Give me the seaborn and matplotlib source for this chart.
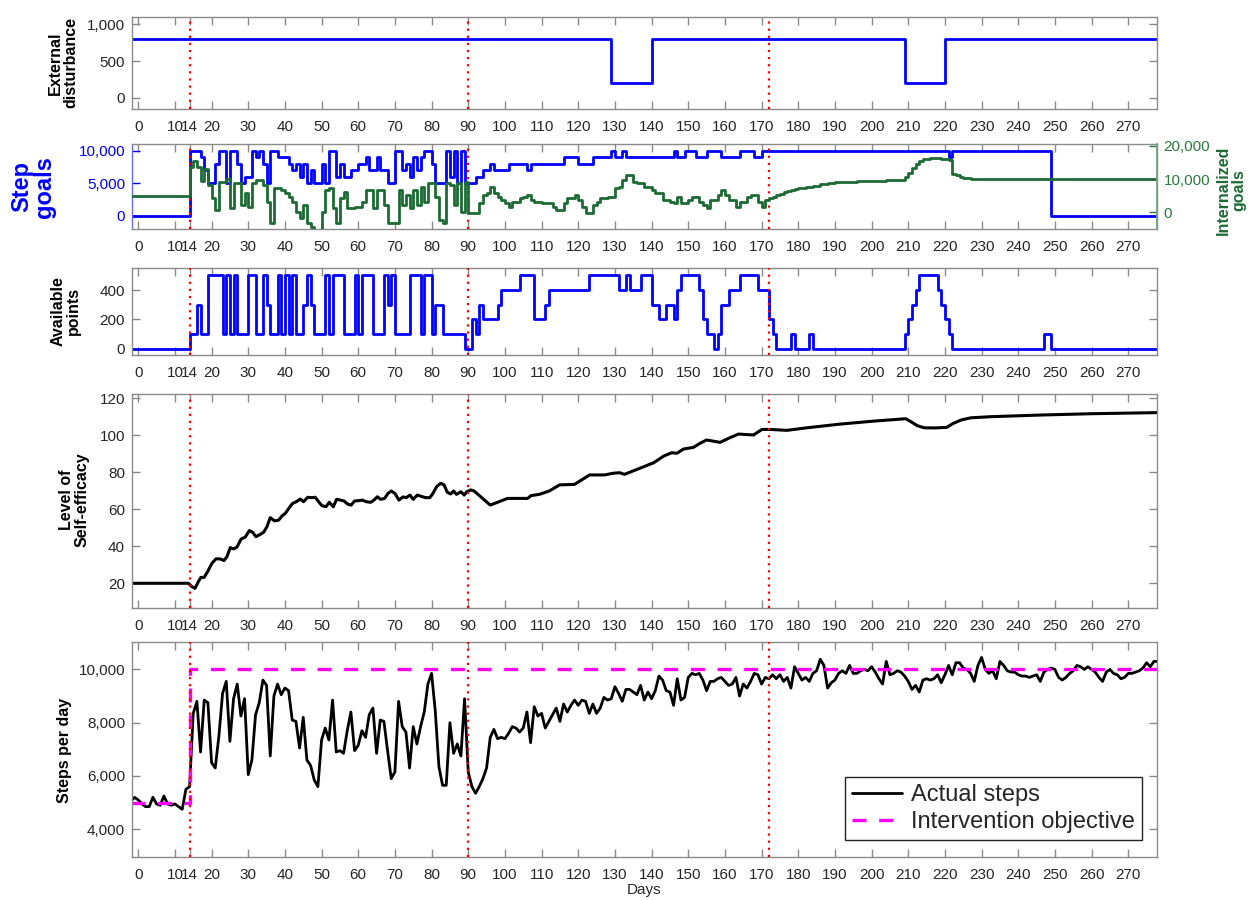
import numpy as np
import pandas as pd
import matplotlib
matplotlib.use("Agg")
import matplotlib.pyplot as plt
import seaborn as sns
from matplotlib.ticker import FuncFormatter
from matplotlib.lines import Line2D

# ---------------- data ----------------
END_DAY = 278
phase_days = [14, 90, 172]
tick_days = [0, 10, 14] + list(range(20, 271, 10))

# external disturbance (change points)
dist_days = [-2, 129, 140, 209, 220]
dist_vals = [800, 200, 800, 200, 800]

# step goals (change points)
goal_days = [-2, 14, 17, 18, 19, 21, 22, 24, 25, 27, 28, 29, 31, 32, 33, 34, 35, 36, 38,
             41, 42, 43, 44, 45, 46, 47, 48, 50, 51, 52, 54, 55, 56, 58, 60, 62, 63, 65,
             66, 68, 70, 72, 73, 74, 75, 76, 77, 78, 80, 81, 84, 85, 86, 87, 88, 89, 92,
             94, 96, 97, 101, 106, 107, 116, 120, 124, 129, 130, 132, 133, 146, 147, 149,
             152, 155, 159, 164, 168, 170, 221, 222, 249]
goal_vals = [0, 10000, 9000, 7000, 5000, 8000, 10000, 5000, 10000, 8000, 5000, 6000, 10000,
             9000, 10000, 8000, 5000, 10000, 9000, 8000, 7000, 8000, 6000, 8000, 5000, 7000,
             5000, 8000, 5000, 10000, 6000, 8000, 6000, 7000, 8000, 9000, 7000, 9000, 7000,
             5000, 10000, 7000, 8000, 6000, 9000, 7000, 9000, 10000, 8000, 5000, 10000, 6000,
             10000, 5000, 10000, 5000, 6000, 7000, 8000, 7000, 8000, 7000, 8000, 9000, 8000,
             9000, 10000, 9000, 10000, 9000, 10000, 9000, 10000, 9000, 10000, 9000, 10000,
             9000, 10000, 9000, 10000, 0]

# internalized goals (change points, right axis)
int_days = [-2, 14, 15, 16, 17, 18, 19, 20, 21, 22, 24, 25, 26, 28, 29, 30, 31, 32, 34, 35,
            36, 37, 39, 40, 41, 42, 43, 44, 45, 46, 47, 48, 50, 51, 52, 53, 54, 55, 56, 57,
            59, 61, 62, 63, 64, 65, 67, 68, 71, 72, 73, 74, 75, 76, 77, 78, 79, 81, 82, 83,
            84, 85, 86, 87, 88, 89, 90, 93, 94, 95, 96, 97, 98, 99, 100, 101, 102, 104, 105,
            106, 107, 108, 110, 113, 114, 116, 117, 119, 120, 121, 122, 124, 125, 126, 128,
            130, 131, 132, 133, 135, 136, 138, 140, 141, 143, 145, 146, 147, 148, 150, 151,
            153, 154, 155, 156, 158, 159, 160, 161, 163, 164, 166, 167, 169, 170, 171, 172,
            173, 174, 175, 176, 177, 178, 179, 180, 182, 184, 186, 188, 190, 193, 196, 200,
            204, 209, 210, 211, 212, 213, 214, 216, 219, 221, 222, 223, 224, 225, 227, 230]
int_vals = [5000, 13800, 15500, 13800, 9500, 13000, 8250, 4200, 700, 9250, 10200, 1200, 8750,
            2200, 5700, 1700, 8750, 9750, 8250, 3200, -3300, 7250, 6700, 5700, 4700, 3200, 200,
            -1800, 2200, -3300, -4300, -5200, 200, 6700, 7250, 1200, -3300, 4200, 6200, 1200,
            1700, 3200, 6700, 6700, 1200, 6700, 2200, -3300, 6700, 2200, 5200, 1200, 6700,
            2200, 7750, 3200, 8750, 4700, -2300, -3300, 8750, 8250, 2200, 8750, 200, 9250,
            -300, 2700, 5200, 5700, 7700, 5700, 4700, 3700, 2700, 1700, 3200, 4200, 4700, 5200,
            3700, 3200, 2700, 1700, 700, 2700, 4200, 5200, 3700, 1700, -300, 2200, 3200, 4200,
            4700, 7200, 7700, 9800, 11300, 9300, 8800, 7700, 6700, 5700, 3700, 3200, 2700,
            4700, 2700, 3700, 4700, 3200, 2200, 1200, 3700, 5200, 6700, 5200, 3700, 1700, 3200,
            4700, 5200, 3200, 1700, 3700, 4200, 4700, 5200, 5600, 6000, 6300, 6600, 6900, 7200,
            7600, 8000, 8400, 8700, 9000, 9200, 9400, 9600, 9800, 10800, 12000, 13300, 14600,
            15600, 16100, 16300, 16100, 15700, 11700, 11300, 10800, 10400, 10100, 10000]

# available points (change points)
pts_days = [-2, 14, 16, 17, 19, 23, 24, 25, 26, 27, 30, 32, 34, 35, 36, 38, 39, 40, 41, 42,
            43, 45, 46, 47, 48, 51, 52, 53, 56, 59, 60, 61, 64, 67, 68, 69, 70, 74, 77, 78,
            80, 81, 83, 89, 91, 92, 93, 94, 98, 99, 104, 108, 111, 112, 123, 131, 133, 134,
            137, 140, 142, 144, 146, 147, 148, 153, 154, 155, 157, 158, 159, 161, 164, 169,
            172, 173, 174, 178, 179, 183, 184, 209, 210, 211, 212, 213, 218, 219, 220, 221,
            222, 247, 249]
pts_vals = [0, 100, 300, 100, 500, 100, 500, 100, 500, 100, 500, 100, 500, 300, 100, 500,
            100, 500, 100, 500, 100, 300, 500, 300, 100, 500, 100, 500, 100, 500, 100, 500,
            100, 500, 300, 500, 100, 500, 100, 500, 100, 300, 100, 0, 200, 100, 300, 200, 300,
            400, 500, 200, 300, 400, 500, 400, 500, 400, 500, 300, 200, 300, 200, 400, 500,
            400, 200, 100, 0, 100, 300, 400, 500, 400, 200, 100, 0, 100, 0, 100, 0, 100, 200,
            300, 400, 500, 400, 300, 200, 100, 0, 100, 0]

# level of self-efficacy
se_days = [-2, 13.7, 14.6, 15.5, 16.4, 17.1, 18, 18.9, 20.1, 21.2, 22.3, 23.4, 24.2, 25.1, 26,
           26.9, 28.1, 29.2, 30.3, 31.2, 32.1, 33.3, 34.2, 35.1, 36, 37.2, 38.3, 39.2, 40.1,
           41.2, 42.1, 43.1, 44.2, 45.1, 46.2, 47.2, 48.3, 49.2, 50.1, 51.2, 52.1, 53.2, 54.1,
           55.2, 56.1, 57.2, 58.1, 59, 60.2, 61.1, 62.2, 63.4, 64.3, 65.2, 66.1, 67.2, 68.1,
           69, 70, 71.1, 72.2, 73.1, 74.1, 75, 76.1, 77.2, 78.4, 79.5, 80.2, 81.4, 82.5, 83.4,
           84.3, 85.2, 86, 86.8, 88, 88.9, 89.6, 90.7, 91.6, 93.4, 96, 98, 100.7, 106.2, 107.1,
           109.4, 112.1, 114.9, 119, 123.1, 127.2, 129.5, 131.3, 132.6, 134.5, 137.2, 140.6,
           143.3, 145.5, 146.9, 148.7, 151.4, 153.2, 155, 158.7, 161, 163.7, 167.8, 170.1,
           172.4, 176.9, 182.4, 191.5, 200.6, 209.3, 210.7, 212.5, 214.3, 217.1, 220.5, 222.1,
           224.4, 227.1, 232.6, 246.3, 260, 278.2]
se_vals = [20, 20, 18.2, 17.3, 20.9, 23.2, 23.2, 26.3, 30.8, 33.2, 33.2, 32.3, 34.4, 39.3,
           38.6, 39.5, 44, 45, 48.5, 47.6, 45.2, 46.5, 47.6, 50.6, 55.5, 53.7, 54.2, 56.4, 57.8,
           60.9, 63.2, 64.1, 65.6, 64.1, 66.5, 66.3, 66.5, 64.1, 62, 61.4, 63.8, 61.4, 65.4, 65,
           64.5, 62.7, 62.3, 64.5, 64.7, 65, 64.1, 63.8, 65, 66.8, 65.4, 65.9, 68.6, 69.9, 68.6,
           65, 66.7, 66.3, 67.7, 65.4, 67.7, 67, 66.3, 66.3, 68.1, 72.3, 74.1, 73.2, 69.2, 68.3,
           69.9, 68.1, 69.5, 67.7, 69.5, 70.5, 69.9, 66.8, 62.3, 63.8, 65.9, 65.9, 67.4, 68.1,
           69.9, 73.2, 73.5, 78.6, 78.6, 79.5, 79.8, 78.9, 80.4, 82.5, 85.2, 88.8, 90.6, 90.3,
           92.6, 93.5, 95.7, 97.5, 96.2, 98.4, 100.7, 100.2, 103.2, 103.2, 102.7, 104.1, 106.1,
           107.7, 109, 107.4, 105.2, 104.1, 104, 104.3, 106.3, 108.3, 109.5, 110.1, 111, 111.7,
           112.3]

# actual steps per day, days -2 .. 278
step_days = list(range(-2, END_DAY + 1))
steps = [5050, 5200, 5100, 4950, 4850, 4850, 5200, 4950, 4900, 5250, 4950, 4900, 4950, 4850,
         4750, 5500, 5600,
         8350, 8800, 6900, 8850, 8750, 6500, 6300, 7500, 9100, 9550,
         7300, 8900, 9450, 8250, 8900, 6050, 6600, 8300, 8750, 9600,
         9400, 6750, 9000, 9450, 9050, 9300, 9200, 8100, 8050, 7050,
         8200, 6600, 6400, 5850, 5600, 7350, 7800, 7350, 8850, 6900,
         6950, 6850, 7700, 8400, 6950, 7150, 7700, 7450, 8300, 8550,
         6850, 8100, 8050, 6950, 5900, 6150, 8800, 7850, 7650, 6300,
         7850, 7200, 7850, 8400, 9450, 9850, 8450, 6350, 5650, 5650,
         8000, 6850, 7200, 6750, 8900, 6150, 5600, 5350, 5600, 5900,
         6300, 7450, 7750, 7400, 7450, 7400, 7600, 7850, 7800, 7650,
         7800, 8400, 7250, 8600, 8250, 8350, 7800, 8050, 8300, 8550,
         8050, 8700, 8400, 8650, 8850, 8650, 8850, 8800, 8350, 8700,
         8350, 8550, 8950, 8850, 8900, 9350, 9100, 8800, 9250, 9250,
         9150, 9050, 9400, 8850, 9150, 8900, 9200, 9750, 9600, 9200,
         9150, 8650, 9650, 8850, 8950, 9700, 9850, 9800, 9850, 9600,
         9200, 9550, 9550, 9650, 9700, 9550, 9400, 9450, 9700, 9000,
         9450, 9300, 9550, 9850, 9800, 9450, 9700, 9650, 9800, 9650,
         9800, 9550, 9700, 9300, 10100, 9850, 9600, 9700, 9550, 9850,
         9950, 10380, 10150, 9300, 9500, 9600, 9850, 9950, 9850, 10150,
         9850, 9850, 9950, 10000, 9950, 10100, 9900, 9650, 9450, 10300,
         9800, 9850, 9950, 9900, 9750, 9550, 9250, 9400, 9150, 9600,
         9650, 9600, 9650, 9800, 9500, 9800, 10150, 9800, 10250, 10250,
         10050, 10000, 9850, 9550, 10150, 10450, 10000, 9850, 9950, 9650,
         10300, 10150, 9950, 9900, 9900, 9800, 9750, 9750, 9700, 9750,
         9800, 9550, 9900, 10000, 10050, 10000, 9700, 9600, 9700, 9850,
         9950, 10150, 10100, 10000, 10100, 10000, 9900, 9700, 9550, 9900,
         10000, 9850, 9800, 9650, 9700, 9850, 9850, 9900, 9950, 10050,
         10250, 10100, 10300, 10300]
assert len(steps) == len(step_days)

# intervention objective (change points)
obj_days = [-2, 14]
obj_vals = [5000, 10000]

# ---------------- styling ----------------
sns.set_theme(style="ticks")
plt.rcParams['font.family'] = ['Liberation Sans', 'DejaVu Sans']

W, H = 1255, 900
XMIN, XMAX = -1.7, 277.7
FRAME = '#8a8a8a'
TXT = '#262626'
BLUE = '#0000ff'
GREEN = '#1d6b34'
GREEN_T = '#2a7a3e'
MAG = '#ff00ff'

fig = plt.figure(figsize=(W / 100, H / 100), dpi=100)


def rect(top, bottom, left=132, right=1156.5):
    return [left / W, 1 - bottom / H, (right - left) / W, (bottom - top) / H]


def stairs(days, vals):
    return list(days) + [END_DAY + 2], list(vals) + [vals[-1]]


comma = FuncFormatter(lambda v, p: f"{v:,.0f}")


def style(ax, ylim, yticks, right=True):
    ax.set_xlim(XMIN, XMAX)
    ax.set_ylim(*ylim)
    ax.set_xticks(tick_days)
    ax.set_xticklabels([str(t) for t in tick_days])
    ax.set_yticks(yticks)
    ax.yaxis.set_major_formatter(comma)
    ax.tick_params(direction='in', length=6, width=1, color=FRAME, labelsize=11,
                   labelcolor=TXT, top=True, right=right, pad=5)
    ax.tick_params(axis='x', pad=8)
    for s in ax.spines.values():
        s.set_color(FRAME)
        s.set_linewidth(1)
    ax.set_xlabel('')
    ax.set_ylabel('')
    for d in phase_days:
        ax.axvline(d, color='red', ls=(0, (1, 2.2)), lw=1.6, zorder=5)


# Panel 1: external disturbance
ax1 = fig.add_axes(rect(17, 109))
x, y = stairs(dist_days, dist_vals)
sns.lineplot(x=x, y=y, ax=ax1, color=BLUE, lw=2.0, drawstyle='steps-post',
             estimator=None, sort=False, legend=False)
style(ax1, (-150, 1100), [0, 500, 1000])

# Panel 2: step goals + internalized goals
ax2 = fig.add_axes(rect(144.3, 229))
x, y = stairs(goal_days, goal_vals)
sns.lineplot(x=x, y=y, ax=ax2, color=BLUE, lw=2.0, drawstyle='steps-post',
             estimator=None, sort=False, legend=False)
style(ax2, (-2000, 11000), [0, 5000, 10000], right=False)
ax2.tick_params(axis='y', labelcolor=BLUE, color=BLUE)
ax2.spines['left'].set_color('#6b6bff')
ax2r = ax2.twinx()
x, y = stairs(int_days, int_vals)
sns.lineplot(x=x, y=y, ax=ax2r, color=GREEN, lw=2.0, drawstyle='steps-post',
             estimator=None, sort=False, legend=False)
ax2r.set_xlim(XMIN, XMAX)
ax2r.set_ylim(-5000, 20500)
ax2r.set_yticks([0, 10000, 20000])
ax2r.yaxis.set_major_formatter(comma)
ax2r.set_ylabel('')
ax2r.tick_params(axis='y', direction='in', length=6, width=1, color=GREEN_T,
                 labelcolor=GREEN_T, labelsize=11, pad=5)
for s in ax2r.spines.values():
    s.set_visible(False)
ax2r.spines['right'].set_visible(True)
ax2r.spines['right'].set_color('#6fa57d')

# Panel 3: available points
ax3 = fig.add_axes(rect(268, 354.7))
x, y = stairs(pts_days, pts_vals)
sns.lineplot(x=x, y=y, ax=ax3, color=BLUE, lw=2.0, drawstyle='steps-post',
             estimator=None, sort=False, legend=False)
style(ax3, (-40, 550), [0, 200, 400])

# Panel 4: self-efficacy
ax4 = fig.add_axes(rect(394.3, 607.7))
sns.lineplot(x=se_days, y=se_vals, ax=ax4, color='black', lw=2.2,
             estimator=None, sort=False, legend=False)
style(ax4, (6.8, 122.2), [20, 40, 60, 80, 100, 120])

# Panel 5: steps per day
ax5 = fig.add_axes(rect(641.7, 856.7))
sns.lineplot(x=step_days, y=steps, ax=ax5, color='black', lw=2.0,
             estimator=None, sort=False, legend=False)
x, y = stairs(obj_days, obj_vals)
sns.lineplot(x=x, y=y, ax=ax5, color=MAG, lw=2.4, drawstyle='steps-post',
             dashes=False, estimator=None, sort=False, legend=False)
ax5.lines[-1].set_linestyle((0, (4.2, 3.8)))
style(ax5, (2970, 11040), [4000, 6000, 8000, 10000])

handles = [Line2D([], [], color='black', lw=2.0),
           Line2D([], [], color=MAG, lw=2.4, ls=(0, (4.2, 3.8)))]
leg = ax5.legend(handles, ['Actual steps', 'Intervention objective'],
                 loc='lower right', bbox_to_anchor=(0.986, 0.078), borderaxespad=0,
                 fontsize=17, frameon=True, fancybox=False, framealpha=1,
                 edgecolor='#222222', handlelength=2.1, handletextpad=0.4,
                 labelspacing=0.2, borderpad=0.3)
leg.get_frame().set_linewidth(1.0)
leg.set_zorder(10)

# axis titles
lab = dict(rotation=90, ha='center', va='center', multialignment='center',
           fontweight='bold', color='black')
fig.text(63 / W, 1 - 63 / H, 'External\ndisturbance', fontsize=11.5, linespacing=1.05, **lab)
fig.text(33 / W, 1 - 187 / H, 'Step\ngoals', fontsize=17, linespacing=1.0,
         **{**lab, 'color': BLUE})
fig.text(1231 / W, 1 - 190 / H, 'Internalized\ngoals', fontsize=11.5, linespacing=1.05,
         **{**lab, 'color': GREEN})
fig.text(66 / W, 1 - 311 / H, 'Available\npoints', fontsize=11.5, linespacing=1.05, **lab)
fig.text(74 / W, 1 - 500 / H, 'Level of\nSelf-efficacy', fontsize=11.5, linespacing=1.05, **lab)
fig.text(64 / W, 1 - 750 / H, 'Steps per day', fontsize=11.5, **lab)
fig.text(644 / W, 1 - 890 / H, 'Days', fontsize=11, ha='center', va='center', color=TXT)

fig.savefig('out.png', dpi=100, facecolor='white')
